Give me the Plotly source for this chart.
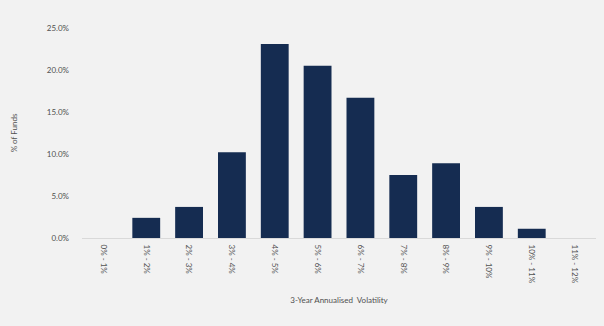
import plotly.graph_objects as go

# Volatility buckets and share of funds in each
categories = ["0% - 1%", "1% - 2%", "2% - 3%", "3% - 4%", "4% - 5%", "5% - 6%",
              "6% - 7%", "7% - 8%", "8% - 9%", "9% - 10%", "10% - 11%", "11% - 12%"]
share_pct = [0.0, 2.4, 3.7, 10.2, 23.1, 20.5, 16.7, 7.5, 8.9, 3.7, 1.1, 0.0]

y_ticks = [0, 5, 10, 15, 20, 25]
y_tick_labels = ["0.0%", "5.0%", "10.0%", "15.0%", "20.0%", "25.0%"]

BG = "#f2f2f2"
BAR = "#152c51"
TXT = "#505050"
FONT = "Lato"

fig = go.Figure(
    go.Bar(x=categories, y=share_pct, marker=dict(color=BAR, line=dict(width=0)))
)

fig.update_layout(
    width=604, height=326,
    paper_bgcolor=BG, plot_bgcolor=BG,
    margin=dict(l=82, r=8, t=28, b=88),
    bargap=0.35,
    showlegend=False,
    font=dict(family=FONT, size=8, color=TXT),
)

fig.update_xaxes(
    type="category",
    tickangle=90,
    showline=True, linecolor="#d9d9d9", linewidth=1,
    showgrid=False, ticks="", ticklabelstandoff=4,
    tickfont=dict(family=FONT, size=8, color=TXT),
    title=dict(text="3-Year Annualised  Volatility", standoff=14,
               font=dict(family=FONT, size=8, color=TXT)),
)

fig.update_yaxes(
    range=[0, 25],
    tickvals=y_ticks, ticktext=y_tick_labels,
    showline=False, showgrid=False, zeroline=False, ticks="",
    ticklabelstandoff=12,
    tickfont=dict(family=FONT, size=8, color=TXT),
    title=dict(text="% of Funds", standoff=27,
               font=dict(family=FONT, size=8, color=TXT)),
)

fig.write_html("out.html")
